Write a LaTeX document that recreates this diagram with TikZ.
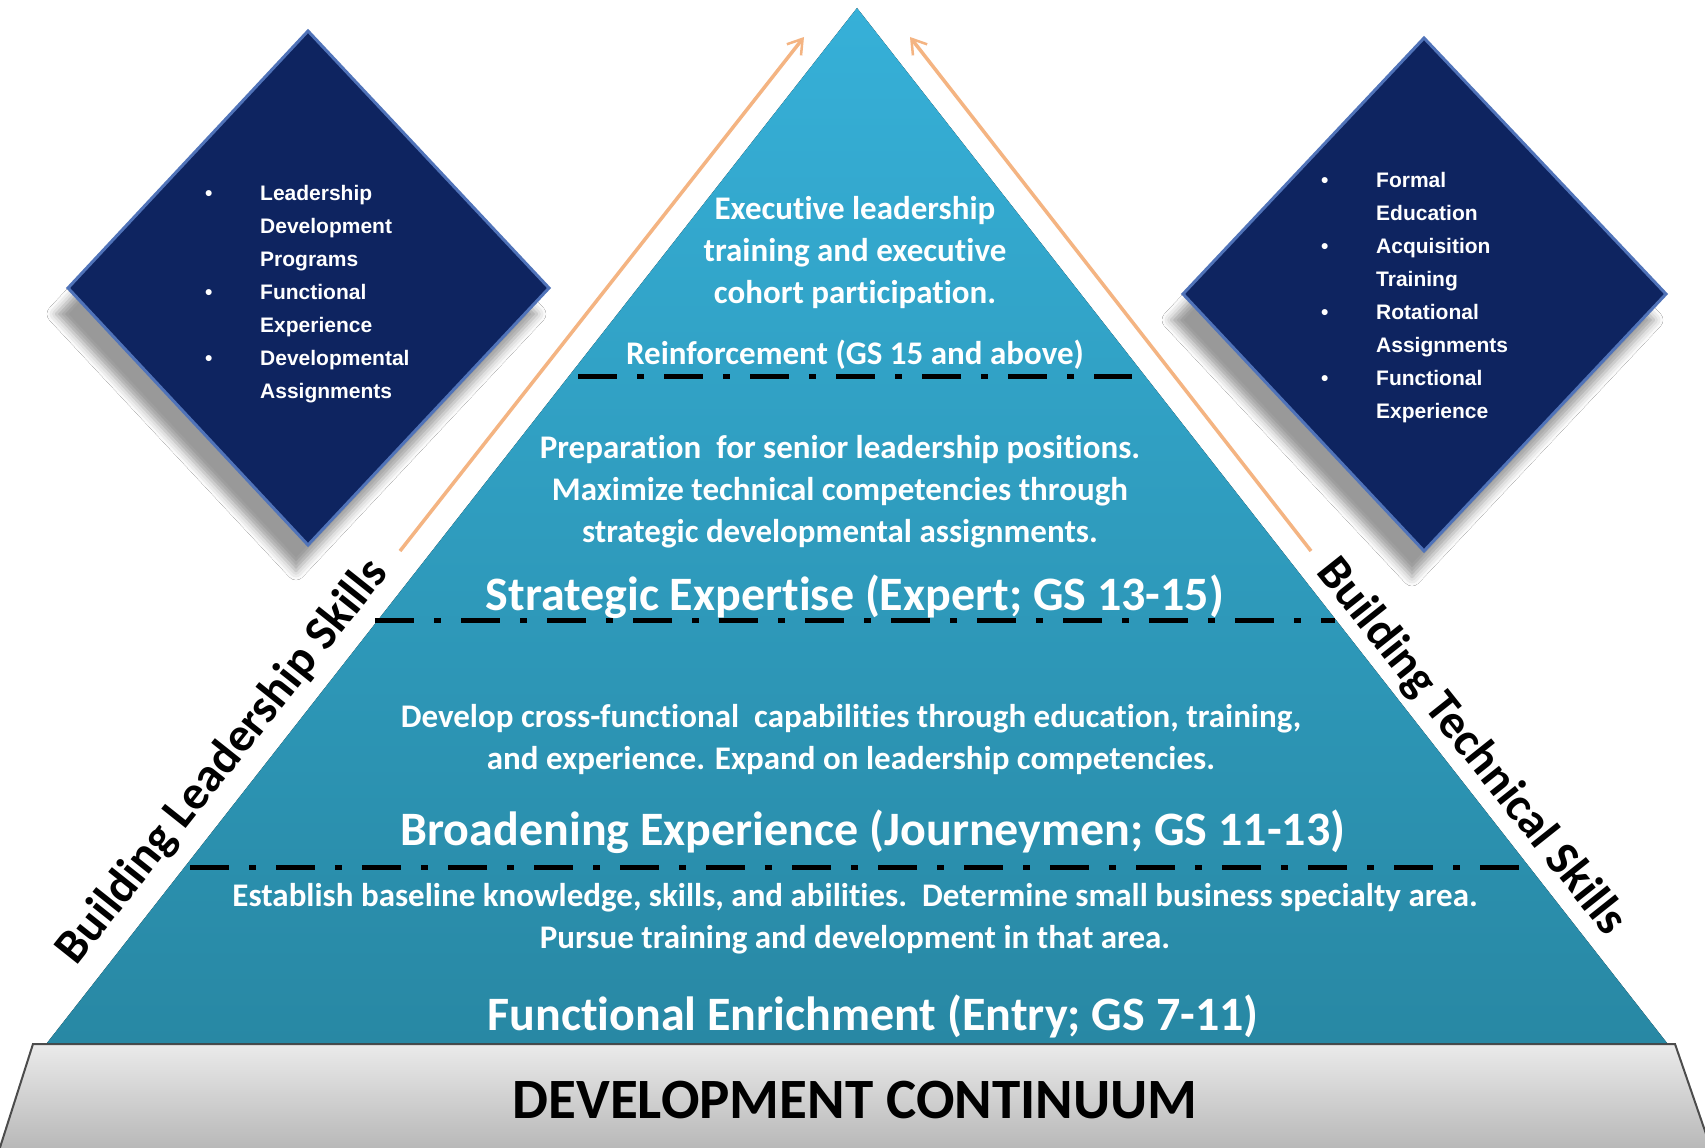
\documentclass[tikz,border=0pt]{standalone}
\usepackage{fontspec}
\setmainfont{Carlito}[Ligatures=NoCommon]
\newfontfamily\arialfont{Liberation Sans}
\usetikzlibrary{arrows.meta,shadows.blur}
\definecolor{dnavy}{RGB}{14,36,96}
\definecolor{bevel}{RGB}{80,115,185}
\definecolor{tritop}{RGB}{54,176,216}
\definecolor{tribot}{RGB}{40,136,164}
\definecolor{orng}{RGB}{244,180,130}
\tikzset{
  body/.style={text=white, font=\bfseries\fontsize{33}{42}\selectfont, align=center, inner sep=0pt},
  head/.style={text=white, font=\bfseries\fontsize{48}{54}\selectfont, align=center, inner sep=0pt},
  basetext/.style={text=black, font=\bfseries\fontsize{57}{62}\selectfont, inner sep=0pt},
  sidelabel/.style={text=black, font=\bfseries\fontsize{48}{52}\selectfont, inner sep=0pt},
  dtext/.style={text=white, font=\arialfont\bfseries\fontsize{21}{33}\selectfont, inner sep=0pt, anchor=north west},
  dashline/.style={line width=5pt, black, dash pattern=on 39pt off 20pt on 7pt off 20pt},
  orangearrow/.style={orng, line width=3.5pt, -{Straight Barb[length=14pt,width=18pt,line width=2.5pt]}},
  diam/.style={fill=dnavy, draw=bevel, line width=3pt, line join=miter,
    blur shadow={shadow xshift=-12pt, shadow yshift=-26pt, shadow blur radius=9pt, shadow opacity=40}}
}
\begin{document}
\begin{tikzpicture}[x=1pt,y=-1pt]
\useasboundingbox[fill=white] (0,0) rectangle (1705,1148);
% base
\begin{scope}
\clip (0,0) rectangle (1705,1148);
\draw[draw=black!70, line width=2pt, top color=black!8, bottom color=black!30] (33,1044) -- (1675,1044) -- (1715,1160) -- (-4,1160) -- cycle;
\end{scope}
% pyramid
\coordinate (apex) at (857,8);
\coordinate (bl) at (47,1043);
\coordinate (br) at (1667,1043);
\fill[top color=tritop, bottom color=tribot] (apex) -- (br) -- (bl) -- cycle;
% diamonds
\path[diam] (308,31) -- (549,288) -- (308,545) -- (68,288) -- cycle;
\path[diam] (1424,38) -- (1666,294) -- (1424,551) -- (1183,294) -- cycle;
\node[dtext] (ltext) at (205,177) {\begin{tabular}{@{}p{55pt}@{}l@{}}\textbullet & Leadership\\ & Development\\ & Programs\\ \textbullet & Functional\\ & Experience\\ \textbullet & Developmental\\ & Assignments\end{tabular}};
\node[dtext] (rtext) at (1321,164) {\begin{tabular}{@{}p{55pt}@{}l@{}}\textbullet & Formal\\ & Education\\ \textbullet & Acquisition\\ & Training\\ \textbullet & Rotational\\ & Assignments\\ \textbullet & Functional\\ & Experience\end{tabular}};
% arrows
\coordinate (la0) at (400,551); \coordinate (la1) at (804,37);
\coordinate (ra0) at (1311,551); \coordinate (ra1) at (910,37);
\draw[orangearrow] (la0) -- (la1);
\draw[orangearrow] (ra0) -- (ra1);
% side labels
\node[sidelabel, rotate=51.5] (lskill) at (223,762) {Building Leadership Skills};
\node[sidelabel, rotate=-51.5] (rskill) at (1471,747) {Building Technical Skills};
% dash lines
\coordinate (d1l) at (578,376); \coordinate (d1r) at (1132,376);
\coordinate (d2l) at (375,620); \coordinate (d2r) at (1335,620);
\coordinate (d3l) at (190,867); \coordinate (d3r) at (1520,867);
\draw[dashline] (d1l) -- (d1r);
\draw[dashline] (d2l) -- (d2r);
\draw[dashline] (d3l) -- (d3r);
% texts
\node[body] (exec) at (855,253) {Executive leadership\\training and executive\\cohort participation.};
\node[body] (reinf) at (855,355) {Reinforcement (GS 15 and above)};
\node[body] (prep) at (840,492) {Preparation\ \ for senior leadership positions.\\Maximize technical competencies through\\strategic developmental assignments.};
\node[head] (strat) at (855,597) {Strategic Expertise (Expert; GS 13-15)};
\node[body] (dev) at (851,740) {Develop cross-functional\ \ capabilities through education, training,\\and experience. Expand on leadership competencies.};
\node[head] (broad) at (873,832) {Broadening Experience (Journeymen; GS 11-13)};
\node[body] (est) at (855,919) {Establish baseline knowledge, skills, and abilities.\ \ Determine small business specialty area.\\Pursue training and development in that area.};
\node[head] (func) at (873,1016) {Functional Enrichment (Entry; GS 7-11)};
\node[basetext] (cont) at (855,1100) {DEVELOPMENT CONTINUUM};
\end{tikzpicture}
\end{document}
